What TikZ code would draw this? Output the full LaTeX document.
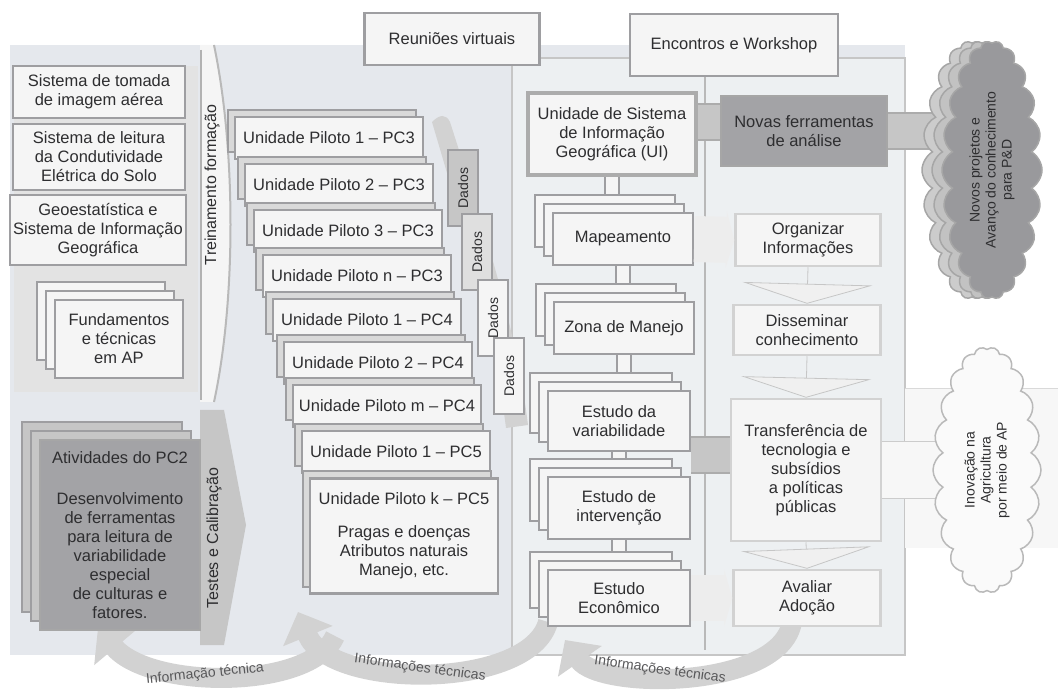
\documentclass[tikz,border=0pt]{standalone}
\usepackage{fontspec}
\setmainfont{Liberation Sans}
\usepackage{xcolor}
\usepackage{tikz}
\usetikzlibrary{shapes.symbols}
\usetikzlibrary{shadows}
\usetikzlibrary{arrows.meta}
\usetikzlibrary{backgrounds}
\definecolor{panelbg}{rgb}{0.90, 0.91, 0.93}
\definecolor{panelin}{rgb}{0.93, 0.94, 0.95}
\definecolor{boxfill}{rgb}{0.96, 0.96, 0.96}
\definecolor{boxline}{rgb}{0.62, 0.62, 0.63}
\definecolor{darkfill}{rgb}{0.64, 0.64, 0.65}
\definecolor{cloudgray}{rgb}{0.60, 0.60, 0.61}
\definecolor{txt}{rgb}{0.18, 0.18, 0.19}
\pgfdeclarelayer{links}
\pgfsetlayers{background,links,main}
\newcommand{\boxfont}{\fontsize{16.5}{19}\selectfont}
\newcommand{\tabfont}{\fontsize{14}{16}\selectfont}
\tikzset{
    box/.style={draw=boxline, line width=2.5pt, fill=boxfill, text=txt, align=center, font=\boxfont, inner sep=2pt},
    darkbox/.style={box, fill=darkfill, draw=gray!70},
    stack/.style={
        copy shadow={shadow xshift=-18pt, shadow yshift=18pt, fill=#1, draw=boxline, line width=2pt},
        copy shadow={shadow xshift=-9pt, shadow yshift=9pt, fill=#1, draw=boxline, line width=2pt}},
    stack/.default=boxfill,
    pilot/.style={box, minimum width=188pt, minimum height=42pt,
        copy shadow={shadow xshift=-7pt, shadow yshift=7pt, fill=gray!30, draw=boxline, line width=2pt}},
    datatab/.style={box, rotate=90, minimum width=76pt, minimum height=30pt, font=\tabfont, line width=1.5pt},
    sidelabel/.style={rotate=90, text=txt, font=\fontsize{16}{18}\selectfont},
    cloudnode/.style={cloud, cloud puffs=22, cloud puff arc=120, cloud ignores aspect, rotate=90, align=center, text=txt, font=\tabfont, line width=1.5pt},
    vlink/.style={draw=boxline, line width=2pt, double=boxfill, double distance=12pt},
    downflow/.style={draw=gray!45, line width=0.8pt, -{Triangle[length=20pt, width=130pt, fill=gray!12]}},
    sideflow/.style={draw=gray!14, line width=46pt, -{Triangle[length=8pt, width=56pt]}},
    darktab/.style={draw=gray!65, line width=2pt, double=gray!45, double distance=34pt},
    lighttab/.style={draw=gray!40, line width=1.2pt, double=gray!6, double distance=56pt},
    bigarc/.style={draw=gray!35, line width=20pt, -{Triangle[length=26pt, width=52pt]}},
    arclabel/.style={text=txt!80, font=\tabfont},
}

\begin{document}
\begin{tikzpicture}[x=1pt, y=-1pt]
    \useasboundingbox (0,0) rectangle (1058,692);
    % Panels
    \begin{pgfonlayer}{background}
        \fill[panelbg] (10,45) rectangle (905,655);
        \filldraw[fill=panelin, draw=gray!45, line width=1.2pt] (512,58) rectangle (905,655);
        \draw[gray!55, line width=1.2pt] (705,77) -- (705,650);
        \fill[gray!22] (14,66) rectangle (198,392);
        % Treinamento band
        \fill[gray!8] (200,45) -- (214,45) .. controls (236,150) and (236,300) .. (214,402) -- (200,402) -- cycle;
        \draw[gray!55, line width=2pt] (214,45) .. controls (236,150) and (236,300) .. (214,402);
        \draw[gray!60, line width=1.2pt] (201,50) -- (201,400);
        % Testes arrow
        \fill[gray!45] (200,410) -- (224,410) -- (246,525) -- (224,645) -- (200,645) -- cycle;
        % band behind the Dados tabs
        \fill[gray!35] (432,122) .. controls (440,114) and (446,114) .. (450,122) .. controls (478,210) and (515,320) .. (528,425) -- (506,428) .. controls (494,330) and (458,210) .. (432,122) -- cycle;
        \fill[gray!6] (905,388) rectangle (1058,548);
        \draw[gray!30] (905,388) -- (1058,388);
    \end{pgfonlayer}
    % Bottom arcs
    \coordinate (a1s) at (335,636);
    \coordinate (a1e) at (98,628);
    \coordinate (a2s) at (548,622);
    \coordinate (a2e) at (298,612);
    \coordinate (a3s) at (792,622);
    \coordinate (a3e) at (565,640);
    \draw[bigarc] (a1s) .. controls (312,690) and (150,690) .. (a1e);
    \draw[bigarc] (a2s) .. controls (530,690) and (330,690) .. (a2e);
    \draw[bigarc] (a3s) .. controls (780,690) and (600,690) .. (a3e);
    \node[arclabel, rotate=6] (lab1) at (205,674) {Informação técnica};
    \node[arclabel, rotate=-8] (lab2) at (420,668) {Informações técnicas};
    \node[arclabel, rotate=-8] (lab3) at (660,670) {Informações técnicas};
    % Top boxes
    \node[box, minimum width=175pt, minimum height=52pt] (reun) at (452,39) {Reuniões virtuais};
    \node[box, minimum width=208pt, minimum height=62pt] (enc) at (734,45) {Encontros e Workshop};
    % Left panel
    \node[box, minimum width=172pt, minimum height=52pt] (tomada) at (99,92) {Sistema de tomada\\de imagem aérea};
    \node[box, minimum width=172pt, minimum height=66pt] (leitura) at (99,157) {Sistema de leitura\\da Condutividade\\Elétrica do Solo};
    \node[box, minimum width=176pt, minimum height=70pt] (geo) at (98,230) {Geoestatística e\\Sistema de Informação\\Geográfica};
    \node[box, stack, minimum width=128pt, minimum height=78pt] (fund) at (119,339) {Fundamentos\\e técnicas\\em AP};
    \node[darkbox, stack=gray!45, minimum width=160pt, minimum height=190pt] (pc2) at (120,535) {Atividades do PC2\\[22pt]Desenvolvimento\\de ferramentas\\para leitura de\\variabilidade\\especial\\de culturas e\\fatores.};
    \node[sidelabel] (trein) at (212,185) {Treinamento formação};
    \node[sidelabel] (testes) at (214,538) {Testes e Calibração};
    % Pilot units
    \node[pilot] (p1) at (329,138) {Unidade Piloto 1 -- PC3};
    \node[pilot] (p2) at (339,185) {Unidade Piloto 2 -- PC3};
    \node[pilot] (p3) at (348,231) {Unidade Piloto 3 -- PC3};
    \node[pilot] (p4) at (357,276) {Unidade Piloto n -- PC3};
    \node[pilot] (p5) at (367,320) {Unidade Piloto 1 -- PC4};
    \node[pilot] (p6) at (378,363) {Unidade Piloto 2 -- PC4};
    \node[pilot] (p7) at (387,406) {Unidade Piloto m -- PC4};
    \node[pilot] (p8) at (396,452) {Unidade Piloto 1 -- PC5};
    \node[pilot, minimum height=115pt] (p9) at (404,536) {Unidade Piloto k -- PC5\\[14pt]Pragas e doenças\\Atributos naturais\\Manejo, etc.};
    \node[datatab, fill=gray!45] (d1) at (463,188) {Dados};
    \node[datatab, fill=gray!25] (d2) at (477,252) {Dados};
    \node[datatab] (d3) at (493,318) {Dados};
    \node[datatab] (d4) at (509,376) {Dados};
    % Center column
    \node[box, draw=gray!65, line width=4pt, minimum width=168pt, minimum height=82pt] (ui) at (612,134) {Unidade de Sistema\\de Informação\\Geográfica (UI)};
    \node[box, stack, minimum width=140pt, minimum height=52pt] (map) at (623,239) {Mapeamento};
    \node[box, stack, minimum width=140pt, minimum height=52pt] (zona) at (624,328) {Zona de Manejo};
    \node[box, stack, minimum width=142pt, minimum height=60pt] (var) at (619,421) {Estudo da\\variabilidade};
    \node[box, stack, minimum width=142pt, minimum height=62pt] (int) at (619,508) {Estudo de\\intervenção};
    \node[box, stack, minimum width=142pt, minimum height=56pt] (eco) at (619,598) {Estudo\\Econômico};
    % Right column
    \node[darkbox, minimum width=166pt, minimum height=70pt] (nov) at (804,131) {Novas ferramentas\\de análise};
    \node[box, draw=gray!35, minimum width=145pt, minimum height=52pt] (org) at (808,240) {Organizar\\Informações};
    \node[box, draw=gray!35, minimum width=147pt, minimum height=50pt] (dis) at (807,330) {Disseminar\\conhecimento};
    \node[box, draw=gray!35, minimum width=150pt, minimum height=142pt] (trans) at (806,470) {Transferência de\\tecnologia e\\subsídios\\a políticas\\públicas};
    \node[box, draw=gray!35, minimum width=147pt, minimum height=56pt] (ava) at (807,598) {Avaliar\\Adoção};
    % Clouds
    \node[cloudnode, fill=cloudgray, draw=gray!70, minimum width=258pt, minimum height=100pt,
        copy shadow={shadow xshift=-20pt, shadow yshift=0pt, fill=gray!40, draw=gray!70},
        copy shadow={shadow xshift=-10pt, shadow yshift=0pt, fill=gray!48, draw=gray!70}] (ncloud) at (992,170) {Novos projetos e\\Avanço do conhecimento\\para P\&D};
    \node[cloudnode, fill=gray!4, draw=gray!55, minimum width=246pt, minimum height=108pt] (icloud) at (987,470) {Inovação na\\Agricultura\\por meio de AP};
    % Links
    \begin{pgfonlayer}{links}
        \draw[vlink] (ui.south) -- (ui.south |- map.north);
        \draw[vlink] (map.south) -- (map.south |- zona.north);
        \draw[vlink] (zona.south) -- (zona.south |- var.north);
        \draw[vlink] (var.south) -- (var.south |- int.north);
        \draw[vlink] (int.south) -- (int.south |- eco.north);
        \draw[darktab] ([yshift=12pt]ui.east) -- ([yshift=12pt]ui.east -| nov.center);
        \draw[darktab] (nov.east) -- (nov.east -| ncloud.center);
        \draw[lighttab] (trans.east) -- (trans.east -| icloud.center);
        \draw[darktab] ([yshift=-34pt]var.east) -- ([yshift=-34pt]var.east -| trans.center);
    \end{pgfonlayer}
    % Flows
    \draw[downflow] (org.south) -- (dis.north);
    \draw[downflow] (dis.south) -- (trans.north);
    \draw[downflow] (trans.south) -- (ava.north);
    \draw[sideflow] (map.east) -- (org.west);
    \draw[sideflow] (eco.east) -- (ava.west);
\end{tikzpicture}
\end{document}
